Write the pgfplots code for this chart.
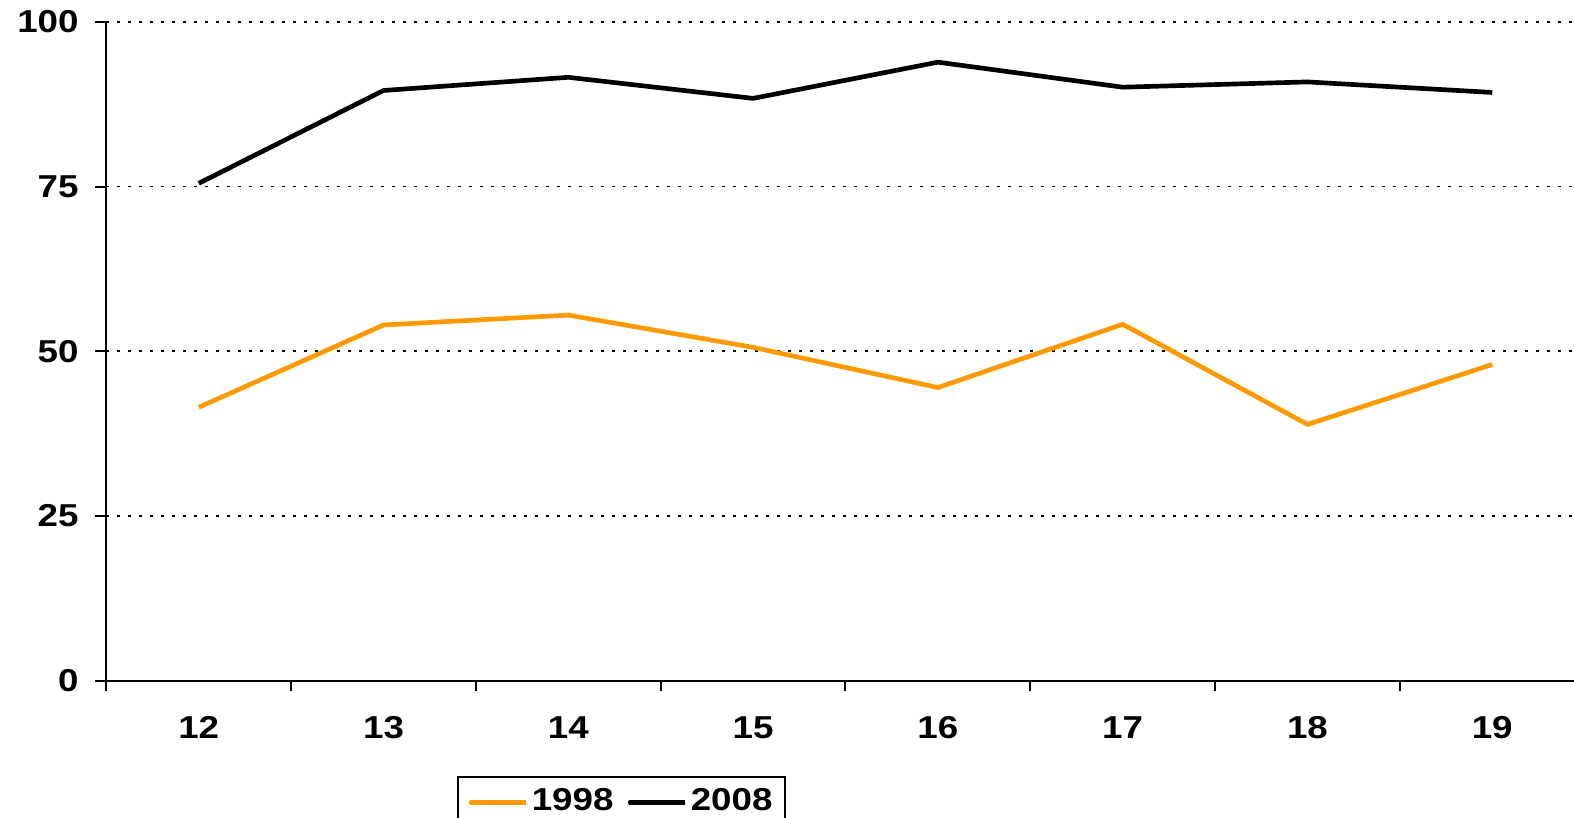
\documentclass[border=0pt]{standalone}
\usepackage{fontspec}
\setmainfont{Liberation Sans}
\newfontfamily\lblfont[FakeStretch=1.16]{Liberation Sans}
\usepackage{pgfplots}
\pgfplotsset{compat=1.18}
\definecolor{orng}{HTML}{FF9900}
\begin{document}
\begin{tikzpicture}
\begin{axis}[
  at={(0pt,0pt)}, anchor=south west,
  scale only axis,
  width=443.5pt, height=197.6pt,
  xmin=-0.5, xmax=7.5, ymin=0, ymax=100,
  axis x line*=bottom, axis y line*=left,
  axis line style={line width=0.6pt, -},
  xtick={0,...,7},
  xticklabels={12,13,14,15,16,17,18,19},
  minor xtick={-0.5,0.5,...,7.5},
  x tick style={draw=none},
  minor x tick style={draw=black, line width=0.6pt},
  minor tick length=3.2pt,
  ytick={0,25,50,75,100},
  y tick style={draw=black, line width=0.6pt},
  major tick length=3.3pt,
  tick align=outside,
  ymajorgrids,
  major grid style={black, line width=0.5pt, dash pattern=on 0.7pt off 2.6pt},
  /pgf/number format/assume math mode=true,
  ticklabel style={font=\lblfont\bfseries\fontsize{9.5}{10}\selectfont},
  xticklabel style={yshift=-3.9pt},
  yticklabel style={xshift=-1.5pt},
  legend columns=-1,
  legend style={at={(0.2375,-0.1449)}, anchor=north west, draw=black, line width=0.6pt,
    font=\lblfont\bfseries\fontsize{9.5}{10}\selectfont,
    inner xsep=2.8pt, inner ysep=2.5pt,
    nodes={inner sep=1pt},
    /tikz/every even column/.append style={column sep=3.0pt}},
  legend image code/.code={\draw[#1, line width=1.4pt, line cap=round] (0.3pt,0pt) -- (16pt,0pt);
    \path (0pt,0pt) -- (16.8pt,0pt);},
]
\addplot[orng, line width=1.4pt, line join=round] coordinates {
  (0,41.5) (1,54.0) (2,55.5) (3,50.6) (4,44.5) (5,54.1) (6,38.9) (7,48.0)};
\addlegendentry{1998}
\addplot[black, line width=1.4pt, line join=round] coordinates {
  (0,75.5) (1,89.6) (2,91.6) (3,88.4) (4,93.9) (5,90.1) (6,90.9) (7,89.3)};
\addlegendentry{2008}
\end{axis}
\pgfresetboundingbox
\path[use as bounding box] (-31.9pt,-41.2pt) rectangle (440.3pt,204.2pt);
\end{tikzpicture}
\end{document}
